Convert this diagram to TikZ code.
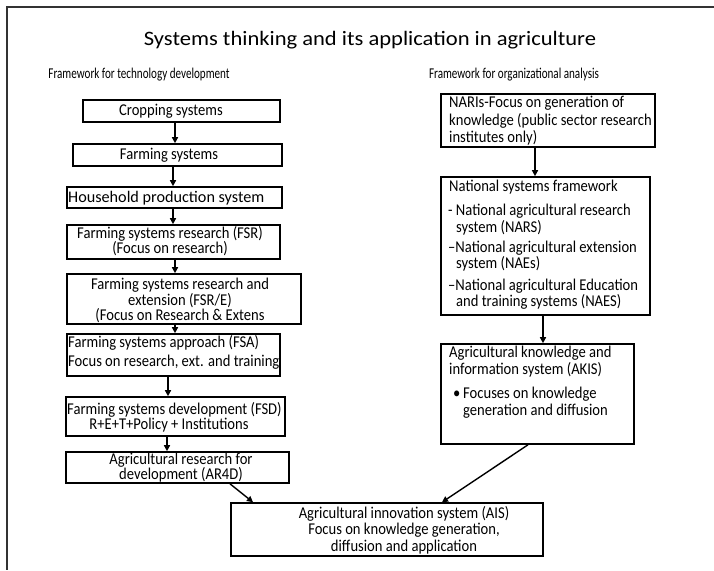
\documentclass[tikz,border=0pt]{standalone}
\usepackage{fontspec}
\setmainfont{Carlito}
\newfontfamily\bodyfont{Carlito}[FakeStretch=0.885]
\newfontfamily\subfont{Carlito}[FakeStretch=0.74]
\newfontfamily\titlefont{Carlito}[FakeStretch=1.1]
\usetikzlibrary{arrows.meta,fit}
\begin{document}
\begin{tikzpicture}[x=1pt,y=-1pt,
  box/.style={draw, line width=1.6pt, inner sep=0pt},
  txt/.style={inner sep=0pt, font=\bodyfont\fontsize{16.5}{16.5}\selectfont},
  sub/.style={inner sep=0pt, font=\subfont\fontsize{15}{18}\selectfont},
  flow/.style={line width=1.4pt, -{Triangle[length=6pt,width=6pt]}},
]
\useasboundingbox (0,0) rectangle (714,570);
% page frame
\draw[line width=1.3pt, black!80] (714,7) -- (7,7) -- (7,570);

% headings
\node[inner sep=0pt, font=\titlefont\fontsize{20.5}{24}\selectfont] (title) at (370,40)
  {Systems thinking and its application in agriculture};
\node[sub] (subL) at (139,75) {Framework for technology development};
\node[sub] (subR) at (514,75) {Framework for organizational analysis};

% left column: technology development
\node[box, fit={(83,100) (280,122)}] (crop) {};
\node[box, fit={(73,144) (282,166)}] (farm) {};
\node[box, fit={(67,187) (282,208)}] (house) {};
\node[box, fit={(67,225) (280,259)}] (fsr) {};
\node[box, fit={(67,274) (301,324)}] (fsre) {};
\node[box, fit={(67,334) (280,376)}] (fsa) {};
\node[box, fit={(66,397) (285,436)}] (fsd) {};
\node[box, fit={(66,452) (289,483)}] (ar4d) {};
\node[box, fit={(231,503) (543,556)}] (ais) {};

\node[txt] (cropT) at (171,111) {Cropping systems};
\node[txt] (farmT) at (169,155) {Farming systems};
\node[txt, anchor=west, font=\rmfamily\fontsize{16.2}{16.5}\selectfont] (houseT) at (68,198)
  {Household production system};
\node[txt, align=center, font=\bodyfont\fontsize{16.5}{15}\selectfont] (fsrT) at (170,241.5)
  {Farming systems research (FSR)\\(Focus on research)};
\node[txt, align=center, font=\bodyfont\fontsize{16.5}{15.5}\selectfont] (fsreT) at (180,300.5)
  {Farming systems research and\\extension (FSR/E)\\(Focus on Research \& Extens};
\node[txt, align=left, anchor=west, font=\bodyfont\fontsize{16.5}{19}\selectfont] (fsaT) at (68,352.5)
  {Farming systems approach (FSA)\\Focus on research, ext. and training};
\node[txt, anchor=west] (fsdA) at (67,409.5) {Farming systems development (FSD)};
\node[txt] (fsdB) at (169,425.5) {R+E+T+Policy + Institutions};
\node[txt, align=center, font=\bodyfont\fontsize{16.5}{15}\selectfont] (ar4dT) at (181,467.5)
  {Agricultural research for\\development (AR4D)};
\node[txt, align=center, font=\bodyfont\fontsize{16.5}{16.7}\selectfont] (aisT) at (404,530)
  {Agricultural innovation system (AIS)\\Focus on knowledge generation,\\diffusion and application};

% right column: organizational analysis
\node[box, fit={(441,94) (655,147)}] (naris) {};
\node[box, fit={(441,177) (650,315)}] (nsf) {};
\node[box, fit={(441,344) (634,444)}] (akis) {};

\node[txt, align=left, anchor=west, font=\bodyfont\fontsize{16.5}{17.5}\selectfont] (narisT) at (449,121)
  {NARIs-Focus on generation of\\knowledge (public sector research\\institutes only)};
\node[txt, anchor=west] (nsfT) at (449,187) {National systems framework};
\node[txt, align=left, anchor=west] (narsT) at (448,219.5)
  {- National agricultural research\\\hspace*{8pt}system (NARS)};
\node[txt, align=left, anchor=west] (naeT) at (448,256)
  {–National agricultural extension\\\hspace*{8pt}system (NAEs)};
\node[txt, align=left, anchor=west] (naesT) at (448,294)
  {–National agricultural Education\\\hspace*{8pt}and training systems (NAES)};
\node[txt, align=left, anchor=west, font=\bodyfont\fontsize{16.5}{17}\selectfont] (akisT) at (449,361.5)
  {Agricultural knowledge and\\information system (AKIS)};
\node[txt, align=left, anchor=west, font=\bodyfont\fontsize{16.5}{17}\selectfont] (akisB) at (453,402.5)
  {\makebox[10pt][l]{•}Focuses on knowledge\\\hspace*{10pt}generation and diffusion};

% column positions of the connectors
\coordinate (xa) at (175,0);
\coordinate (xb) at (173,0);
\coordinate (xc) at (168,0);
\coordinate (xd) at (167,0);
\coordinate (xe) at (535,0);
\coordinate (xf) at (543,0);
\coordinate (xg) at (230,0);
\coordinate (xh) at (253,0);
\coordinate (xi) at (528,0);
\coordinate (xj) at (442,0);

% connectors
\draw[flow] (crop.south -| xa) -- (farm.north -| xa);
\draw[flow] (farm.south -| xb) -- (house.north -| xb);
\draw[flow] (house.south -| xb) -- (fsr.north -| xb);
\draw[flow] (fsr.south -| xa) -- (fsre.north -| xa);
\draw[flow] (fsre.south -| xa) -- (fsa.north -| xa);
\draw[flow] (fsa.south -| xc) -- (fsd.north -| xc);
\draw[flow] (fsd.south -| xd) -- (ar4d.north -| xd);
\draw[flow] (ar4d.south -| xg) -- (ais.north -| xh);
\draw[flow] (naris.south -| xe) -- (nsf.north -| xe);
\draw[flow] (nsf.south -| xf) -- (akis.north -| xf);
\draw[flow] (akis.south -| xi) -- (ais.north -| xj);
\end{tikzpicture}
\end{document}
